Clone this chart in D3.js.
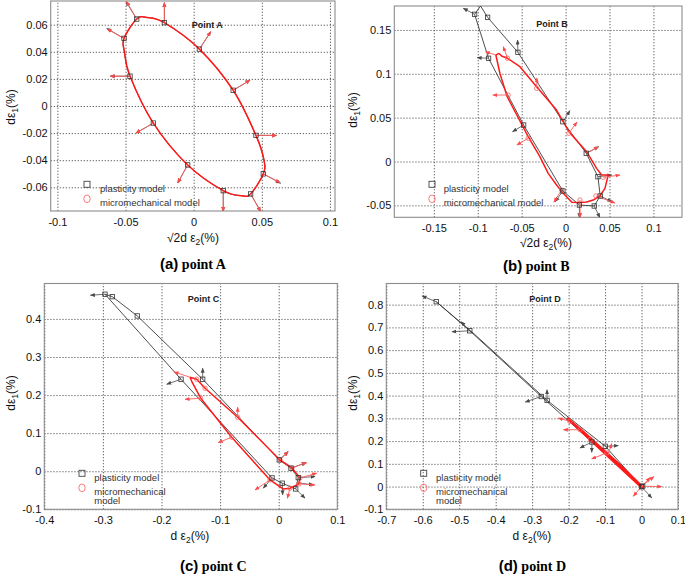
<!DOCTYPE html>
<html>
<head>
<meta charset="utf-8">
<script src="https://cdn.jsdelivr.net/npm/d3@7"></script>
<style>
	body { margin: 0; background: #fff; }
	svg { display: block; }
</style>
</head>
<body>
<svg id="chart" width="685" height="574"></svg>
<script>

// ---------- panel (a) : point A ----------
var aXTicks = [-0.1, -0.05, 0, 0.05, 0.1];
var aYTicks = [-0.06, -0.04, -0.02, 0, 0.02, 0.04, 0.06];
var aPlastLoop = [[-0.0345, 0.0654], [-0.0418, 0.0642], [-0.0511, 0.0499], [-0.0508, 0.040], [-0.0467, 0.022],
	[-0.0296, -0.0126], [-0.0044, -0.0435], [0.0217, -0.0625], [0.0352, -0.0662], [0.0418, -0.0649],
	[0.0511, -0.0501], [0.0516, -0.040], [0.0457, -0.0217], [0.029, 0.0116], [0.0042, 0.042], [-0.0215, 0.0615]];
var aMicroLoop = [[-0.0345, 0.0654], [-0.0418, 0.0642], [-0.0511, 0.0499], [-0.0508, 0.040], [-0.0467, 0.022],
	[-0.0296, -0.0126], [-0.0044, -0.0435], [0.0217, -0.0625], [0.0352, -0.0662], [0.0418, -0.0649],
	[0.0511, -0.0501], [0.0516, -0.040], [0.0457, -0.0217], [0.029, 0.0116], [0.0042, 0.042], [-0.0215, 0.0615]];
var aPlastArrows = [[-0.0418, 0.0642, -0.0496, 0.077], [-0.0215, 0.0615, -0.0215, 0.0763], [-0.0511, 0.0499, -0.0638, 0.0573],
	[0.0042, 0.042, 0.0125, 0.0548], [-0.0467, 0.022, -0.0613, 0.022], [0.029, 0.0116, 0.0413, 0.019],
	[-0.0296, -0.0126, -0.0423, -0.020], [0.0457, -0.0217, 0.0608, -0.0217], [-0.0044, -0.0435, -0.0117, -0.0568],
	[0.0511, -0.0501, 0.0638, -0.057], [0.0217, -0.0625, 0.0217, -0.0778], [0.0418, -0.0649, 0.0491, -0.0778]];
var aMicroArrows = [[-0.0418, 0.0642, -0.0493, 0.0772], [-0.0215, 0.0615, -0.0215, 0.0763], [-0.0511, 0.0499, -0.0634, 0.0568],
	[0.0042, 0.042, 0.0125, 0.0548], [-0.0467, 0.022, -0.0613, 0.022], [0.029, 0.0116, 0.0413, 0.019],
	[-0.0296, -0.0126, -0.0423, -0.020], [0.0457, -0.0217, 0.0608, -0.0217], [-0.0044, -0.0435, -0.0117, -0.0568],
	[0.0511, -0.0501, 0.0633, -0.0565], [0.0217, -0.0625, 0.0217, -0.0778], [0.0418, -0.0649, 0.0491, -0.0778]];
var aPlastMarks = [[-0.0418, 0.0642], [-0.0215, 0.0615], [-0.0511, 0.0499], [0.0042, 0.042], [-0.0467, 0.022], [0.029, 0.0116],
	[-0.0296, -0.0126], [0.0457, -0.0217], [-0.0044, -0.0435], [0.0511, -0.0501], [0.0217, -0.0625], [0.0418, -0.0649]];
var aMicroMarks = [];

// ---------- panel (b) : point B ----------
var bXTicks = [-0.15, -0.1, -0.05, 0, 0.05, 0.1];
var bYTicks = [-0.05, 0, 0.05, 0.1, 0.15];
var bPlastLoop = [[-0.0968, 0.1773], [-0.0888, 0.1644], [-0.0543, 0.1245], [-0.0031, 0.0454], [0.0235, 0.0094],
	[0.0368, -0.0173], [0.0394, -0.0393], [0.0326, -0.0507], [0.0157, -0.0496], [-0.0031, -0.0336],
	[-0.0478, 0.0416], [-0.0877, 0.1177], [-0.1036, 0.1678], [-0.0968, 0.1773]];
var bPlastMarks = [[-0.0888, 0.1644], [-0.0543, 0.1245], [-0.0031, 0.0454], [0.0235, 0.0094], [0.0368, -0.0173],
	[0.0394, -0.0393], [0.0326, -0.0507], [0.0157, -0.0496], [-0.0031, -0.0336], [-0.0478, 0.0416],
	[-0.0877, 0.1177], [-0.1036, 0.1678]];
var bPlastArrows = [[-0.1036, 0.1678, -0.1165, 0.1747], [-0.0543, 0.1245, -0.0547, 0.1385], [-0.0877, 0.1177, -0.1007, 0.1184],
	[-0.0031, 0.0454, 0.0049, 0.058], [-0.0478, 0.0416, -0.0604, 0.034], [0.0235, 0.0094, 0.0376, 0.0169],
	[0.0368, -0.0173, 0.0527, -0.0154], [0.0394, -0.0393, 0.0527, -0.0458], [-0.0031, -0.0336, -0.0118, -0.0458],
	[0.0157, -0.0496, 0.0157, -0.064], [0.0326, -0.0507, 0.039, -0.064]];
var bMicroLoop = [[-0.0759, 0.1234], [-0.0729, 0.1203], [-0.0661, 0.1177], [-0.052, 0.1081], [-0.033, 0.0853],
	[-0.0103, 0.0587], [0.0038, 0.034], [0.0239, 0.0112], [0.0353, -0.0078], [0.041, -0.0154], [0.0485, -0.0154],
	[0.0448, -0.0306], [0.0391, -0.0393], [0.0314, -0.0439], [0.0239, -0.0462], [0.0163, -0.0468], [0.0072, -0.0465],
	[-0.003, -0.036], [-0.0103, -0.0268], [-0.0198, -0.0135], [-0.0293, 0.0055], [-0.0426, 0.0283],
	[-0.0665, 0.0739], [-0.0748, 0.1006], [-0.0794, 0.1214], [-0.0759, 0.1234]];
var bMicroMarks = [[-0.0661, 0.1177], [-0.033, 0.0835], [0.0038, 0.0322], [-0.0654, 0.0758], [-0.0426, 0.0265],
	[-0.0046, -0.0325], [0.0163, -0.0439], [0.0345, -0.0393], [0.0428, -0.018]];
var bMicroArrows = [[-0.0661, 0.1177, -0.071, 0.131], [-0.0794, 0.1214, -0.0911, 0.1252], [-0.033, 0.0835, -0.0327, 0.0952],
	[-0.0654, 0.0758, -0.0828, 0.0758], [0.0038, 0.0322, 0.0129, 0.045], [-0.0426, 0.0265, -0.0555, 0.0188],
	[0.0277, 0.0112, 0.0371, 0.0169], [0.0428, -0.018, 0.062, -0.0154], [0.0345, -0.0393, 0.0562, -0.0473],
	[0.0163, -0.0439, 0.0166, -0.064], [-0.0046, -0.0325, -0.0133, -0.0462]];

// ---------- panel (c) : point C ----------
var cXTicks = [-0.4, -0.3, -0.2, -0.1, 0, 0.1];
var cYTicks = [-0.1, 0, 0.1, 0.2, 0.3, 0.4];
var cPlastLoop = [[-0.2964, 0.4648], [-0.284, 0.4585], [-0.2413, 0.4078], [-0.1297, 0.2416], [0.001, 0.0297],
	[0.021, 0.0079], [0.0334, -0.0168], [0.029, -0.0465], [0.0061, -0.0315], [-0.0114, -0.0176],
	[-0.1667, 0.2416], [-0.2964, 0.4648]];
var cPlastMarks = [[-0.2964, 0.4648], [-0.284, 0.4585], [-0.2413, 0.4078], [-0.1297, 0.2416], [0.001, 0.0297],
	[0.021, 0.0079], [0.0334, -0.0168], [0.029, -0.0465], [0.0061, -0.0315], [-0.0114, -0.0176], [-0.1667, 0.2416]];
var cPlastArrows = [[-0.2964, 0.4648, -0.3214, 0.4622], [-0.1297, 0.2416, -0.1297, 0.2705], [-0.1667, 0.2416, -0.1911, 0.2285],
	[0.001, 0.0297, 0.0159, 0.0515], [0.021, 0.0079, 0.0466, 0.0226], [0.0334, -0.0168, 0.062, -0.0142],
	[0.031, -0.03, 0.0591, -0.0359], [0.029, -0.0465, 0.0449, -0.0709], [0.0061, -0.0315, 0.0068, -0.0622],
	[-0.0114, -0.0176, -0.0263, -0.0446]];
var cMicroLoop = [[-0.1513, 0.2468], [-0.1399, 0.2416], [-0.1257, 0.218], [-0.07, 0.1418], [0.0022, 0.0297],
	[0.0227, 0.0087], [0.0363, -0.0176], [0.0346, -0.0333], [0.0193, -0.0446], [0.0073, -0.0465],
	[-0.0148, -0.0228], [-0.0802, 0.0893], [-0.1331, 0.1917], [-0.148, 0.2345], [-0.1513, 0.2468]];
var cMicroMarks = [[-0.1399, 0.2416], [-0.1257, 0.218], [-0.07, 0.1418], [0.0022, 0.0297], [0.0227, 0.0087],
	[0.0363, -0.0176], [0.0346, -0.0333], [0.0193, -0.0446], [-0.0148, -0.0228], [-0.0802, 0.0893], [-0.1331, 0.1917]];
var cMicroArrows = [[-0.1513, 0.2468, -0.1787, 0.2608], [-0.1331, 0.1917, -0.1598, 0.1889], [-0.07, 0.1418, -0.07, 0.1681],
	[-0.0802, 0.0893, -0.1031, 0.0751], [0.0022, 0.0297, 0.0164, 0.0515], [0.0227, 0.0087, 0.0478, 0.0226],
	[0.0363, -0.0176, 0.0648, -0.0053], [0.0346, -0.0333, 0.062, -0.036], [0.0193, -0.0446, 0.0147, -0.0709],
	[-0.0148, -0.0228, -0.0404, -0.0491]];

// ---------- panel (d) : point D ----------
var dXTicks = [-0.7, -0.6, -0.5, -0.4, -0.3, -0.2, -0.1, 0, 0.1];
var dYTicks = [-0.1, 0, 0.1, 0.2, 0.3, 0.4, 0.5, 0.6, 0.7, 0.8];
var dPlastLoop = [[-0.563, 0.813], [-0.471, 0.685], [-0.275, 0.396], [-0.136, 0.196], [0.0, -0.001],
	[-0.0993, 0.177], [-0.259, 0.379], [-0.459, 0.671], [-0.563, 0.813]];
var dPlastMarks = [[-0.563, 0.813], [-0.471, 0.685], [-0.275, 0.396], [-0.259, 0.379], [-0.136, 0.196],
	[-0.0993, 0.177], [0.0, -0.001], [0.003, 0.002]];
var dPlastArrows = [[-0.563, 0.813, -0.602, 0.838], [-0.471, 0.685, -0.52, 0.681], [-0.471, 0.685, -0.495, 0.725],
	[-0.275, 0.396, -0.319, 0.372], [-0.259, 0.379, -0.2592, 0.4256], [-0.136, 0.196, -0.1366, 0.1505],
	[-0.136, 0.196, -0.1688, 0.17], [-0.0993, 0.177, -0.0637, 0.18], [0.0, -0.001, 0.028, -0.0496]];
var dMicroLoop = [[-0.2044, 0.301], [-0.1605, 0.241], [-0.122, 0.185], [-0.059, 0.094], [-0.0014, 0.0044],
	[0.0013, -0.0044], [-0.081, 0.118], [-0.1414, 0.208], [-0.191, 0.283], [-0.2044, 0.301]];
var dMicroMarks = [[-0.1967, 0.2865], [-0.1687, 0.25], [-0.14, 0.208], [-0.0955, 0.1479], [0.0, 0.0]];
var dMicroArrows = [[-0.1967, 0.2865, -0.2283, 0.3014], [-0.1687, 0.25, -0.2146, 0.25], [-0.0955, 0.1479, -0.1367, 0.1215],
	[-0.092, 0.137, -0.0818, 0.1887], [0.0005, 0.0013, 0.0554, 0.0], [0.0005, 0.0013, 0.0233, 0.0395],
	[0.0005, 0.0013, 0.034, 0.044], [0.0005, 0.0013, -0.0226, -0.0426]];

// layout of the four panels (pixel positions only)
var panels = [
	{ box: {l: 50.7, t: 1, r: 335, b: 211}, xd: [-0.1049, 0.1037], yd: [-0.0775, 0.0775],
		xt: aXTicks, yt: aYTicks, pl: aPlastLoop, pm: aPlastMarks, pa: aPlastArrows,
		ml: aMicroLoop, mm: aMicroMarks, ma: aMicroArrows, curve: d3.curveCardinalClosed,
		xTitle: '√2d ε', xPos: [193, 242], yPos: [11, 107], tag: 'Point A', tagPos: [191.7, 28.3],
		leg: {x: 87, y: 184.3, tx: 100, lines: ['micromechanical model']},
		cap: ['(a)', ' point A'], capPos: [160, 269] },
	{ box: {l: 394.3, t: 6, r: 682, b: 217.3}, xd: [-0.195, 0.1325], yd: [-0.0636, 0.1773],
		xt: bXTicks, yt: bYTicks, pl: bPlastLoop, pm: bPlastMarks, pa: bPlastArrows,
		ml: bMicroLoop, mm: bMicroMarks, ma: bMicroArrows, curve: d3.curveLinear,
		xTitle: '√2d ε', xPos: [546, 247], yPos: [353, 110], tag: 'Point B', tagPos: [536.3, 26.7],
		leg: {x: 432, y: 184.3, tx: 443.7, lines: ['micromechanical model']},
		cap: ['(b)', ' point B'], capPos: [503, 271] },
	{ box: {l: 44.3, t: 283.5, r: 337.3, b: 509.3}, xd: [-0.4, 0.1], yd: [-0.1, 0.493],
		xt: cXTicks, yt: cYTicks, pl: cPlastLoop, pm: cPlastMarks, pa: cPlastArrows,
		ml: cMicroLoop, mm: cMicroMarks, ma: cMicroArrows, curve: d3.curveLinear,
		xTitle: 'd ε', xPos: [190, 540], yPos: [11, 393], tag: 'Point C', tagPos: [187.7, 302.3],
		leg: {x: 82, y: 473.3, tx: 94.3, lines: ['micromechanical', 'model']},
		cap: ['(c)', ' point C'], capPos: [180, 571] },
	{ box: {l: 386.3, t: 283.5, r: 678, b: 509.3}, xd: [-0.7, 0.1], yd: [-0.1, 0.893],
		xt: dXTicks, yt: dYTicks, pl: dPlastLoop, pm: dPlastMarks, pa: dPlastArrows,
		ml: dMicroLoop, mm: dMicroMarks, ma: dMicroArrows, curve: d3.curveLinear,
		xTitle: 'd ε', xPos: [532, 540], yPos: [353, 393], tag: 'Point D', tagPos: [529.3, 302.3],
		leg: {x: 423.7, y: 473.3, tx: 436, lines: ['micromechanical', 'model']},
		cap: ['(d)', ' point D'], capPos: [498.7, 571] }
];

var sans = '"Liberation Sans", Arial, sans-serif';
var serif = '"Liberation Serif", "Times New Roman", serif';
var black = '#3a3a3a';
var red = '#ff1a1a';
var redArrow = '#ff5a5a';

var svg = d3.select('#chart');
var defs = svg.append('defs');

// arrow heads
[['headK', '#4a4a4a'], ['headR', '#ff4a4a']].forEach(function(h) {
	defs.append('marker')
		.attr('id', h[0])
		.attr('viewBox', '0 0 10 10')
		.attr('refX', 9).attr('refY', 5)
		.attr('markerWidth', 5).attr('markerHeight', 5)
		.attr('markerUnits', 'userSpaceOnUse')
		.attr('orient', 'auto')
		.append('path').attr('d', 'M0,1L10,5L0,9z').attr('fill', h[1]);
});

var fmt = function(d) { return String(+d.toFixed(3)); };

panels.forEach(function(p, i) {
	var b = p.box;
	var w = b.r - b.l, h = b.b - b.t;
	var x = d3.scaleLinear().domain(p.xd).range([b.l, b.r]);
	var y = d3.scaleLinear().domain(p.yd).range([b.b, b.t]);

	var g = svg.append('g');

	defs.append('clipPath').attr('id', 'clip' + i)
		.append('rect').attr('x', b.l).attr('y', b.t).attr('width', w).attr('height', h);

	// x axis with grid
	var gx = g.append('g')
		.attr('transform', 'translate(0,' + b.b + ')')
		.call(d3.axisBottom(x).tickValues(p.xt).tickFormat(fmt).tickSize(-h).tickPadding(7));
	// y axis with grid
	var gy = g.append('g')
		.attr('transform', 'translate(' + b.l + ',0)')
		.call(d3.axisLeft(y).tickValues(p.yt).tickFormat(fmt).tickSize(-w).tickPadding(3));

	[gx, gy].forEach(function(ax) {
		ax.select('.domain').remove();
		ax.selectAll('line')
			.attr('stroke', '#555')
			.attr('stroke-width', 0.9)
			.attr('stroke-dasharray', '1.3,1.7');
		ax.selectAll('text')
			.attr('fill', '#111')
			.style('font-family', sans)
			.style('font-size', '11px');
	});

	// frame
	g.append('rect')
		.attr('x', b.l).attr('y', b.t).attr('width', w).attr('height', h)
		.attr('fill', 'none').attr('stroke', '#8c8c8c').attr('stroke-width', 1.1);

	var plot = g.append('g').attr('clip-path', 'url(#clip' + i + ')');

	var line = d3.line()
		.x(function(d) { return x(d[0]); })
		.y(function(d) { return y(d[1]); })
		.curve(p.curve);

	// plasticity model loop
	plot.append('path').datum(p.pl)
		.attr('d', line).attr('fill', 'none')
		.attr('stroke', black).attr('stroke-width', 0.9);

	// plasticity arrows
	plot.selectAll('.pa').data(p.pa).enter().append('line')
		.attr('x1', function(d) { return x(d[0]); }).attr('y1', function(d) { return y(d[1]); })
		.attr('x2', function(d) { return x(d[2]); }).attr('y2', function(d) { return y(d[3]); })
		.attr('stroke', '#4a4a4a').attr('stroke-width', 0.8)
		.attr('marker-end', 'url(#headK)');

	// micromechanical loop
	plot.append('path').datum(p.ml)
		.attr('d', line).attr('fill', 'none')
		.attr('stroke', red).attr('stroke-width', i == 3 ? 2.6 : 1.5)
		.attr('stroke-linejoin', 'round');

	// micromechanical arrows
	plot.selectAll('.ma').data(p.ma).enter().append('line')
		.attr('x1', function(d) { return x(d[0]); }).attr('y1', function(d) { return y(d[1]); })
		.attr('x2', function(d) { return x(d[2]); }).attr('y2', function(d) { return y(d[3]); })
		.attr('stroke', redArrow).attr('stroke-width', 0.9)
		.attr('marker-end', 'url(#headR)');

	// markers
	plot.selectAll('.mm').data(p.mm).enter().append('circle')
		.attr('cx', function(d) { return x(d[0]); }).attr('cy', function(d) { return y(d[1]); })
		.attr('r', 2.2).attr('fill', 'none').attr('stroke', redArrow).attr('stroke-width', 0.8);
	plot.selectAll('.pm').data(p.pm).enter().append('rect')
		.attr('x', function(d) { return x(d[0]) - 2.2; }).attr('y', function(d) { return y(d[1]) - 2.2; })
		.attr('width', 4.4).attr('height', 4.4)
		.attr('fill', 'none').attr('stroke', '#333').attr('stroke-width', 0.8);

	// "Point X" label
	g.append('text')
		.attr('x', p.tagPos[0]).attr('y', p.tagPos[1])
		.style('font-family', sans).style('font-size', '9px').style('font-weight', 'bold')
		.attr('fill', '#222').text(p.tag);

	// legend
	var lg = g.append('g');
	lg.append('rect')
		.attr('x', p.leg.x - 3).attr('y', p.leg.y - 3).attr('width', 6).attr('height', 6)
		.attr('fill', 'none').attr('stroke', '#444').attr('stroke-width', 0.9);
	lg.append('text')
		.attr('x', p.leg.tx).attr('y', p.leg.y + 7.5)
		.style('font-family', sans).style('font-size', '9.5px')
		.attr('fill', '#333').text('plasticity model');
	lg.append('ellipse')
		.attr('cx', p.leg.x).attr('cy', p.leg.y + 14.5).attr('rx', 3.2).attr('ry', 3.8)
		.attr('fill', 'none').attr('stroke', '#ff6b6b').attr('stroke-width', 0.9);
	p.leg.lines.forEach(function(t, k) {
		lg.append('text')
			.attr('x', p.leg.tx).attr('y', p.leg.y + 21.5 + k * 9.5)
			.style('font-family', sans).style('font-size', '9.5px')
			.attr('fill', '#333').text(t);
	});

	// axis titles
	var xt = g.append('text')
		.attr('x', p.xPos[0]).attr('y', p.xPos[1])
		.attr('text-anchor', 'middle')
		.style('font-family', sans).style('font-size', '12px').attr('fill', '#111');
	xt.append('tspan').text(p.xTitle);
	xt.append('tspan').attr('dy', 3).style('font-size', '8.5px').text('2');
	xt.append('tspan').attr('dy', -3).text('(%)');

	var yt = g.append('text')
		.attr('transform', 'translate(' + p.yPos[0] + ',' + p.yPos[1] + ') rotate(-90)')
		.attr('text-anchor', 'middle').attr('dy', '0.35em')
		.style('font-family', sans).style('font-size', '12px').attr('fill', '#111');
	yt.append('tspan').text('dε');
	yt.append('tspan').attr('dy', 3).style('font-size', '8.5px').text('1');
	yt.append('tspan').attr('dy', -3).text('(%)');

	// caption
	var cap = g.append('text')
		.attr('x', p.capPos[0]).attr('y', p.capPos[1])
		.attr('fill', '#000').style('font-weight', 'bold');
	cap.append('tspan').style('font-family', sans).style('font-size', '15px').text(p.cap[0]);
	cap.append('tspan').style('font-family', serif).style('font-size', '14px').text(p.cap[1]);
});

</script>
</body>
</html>
